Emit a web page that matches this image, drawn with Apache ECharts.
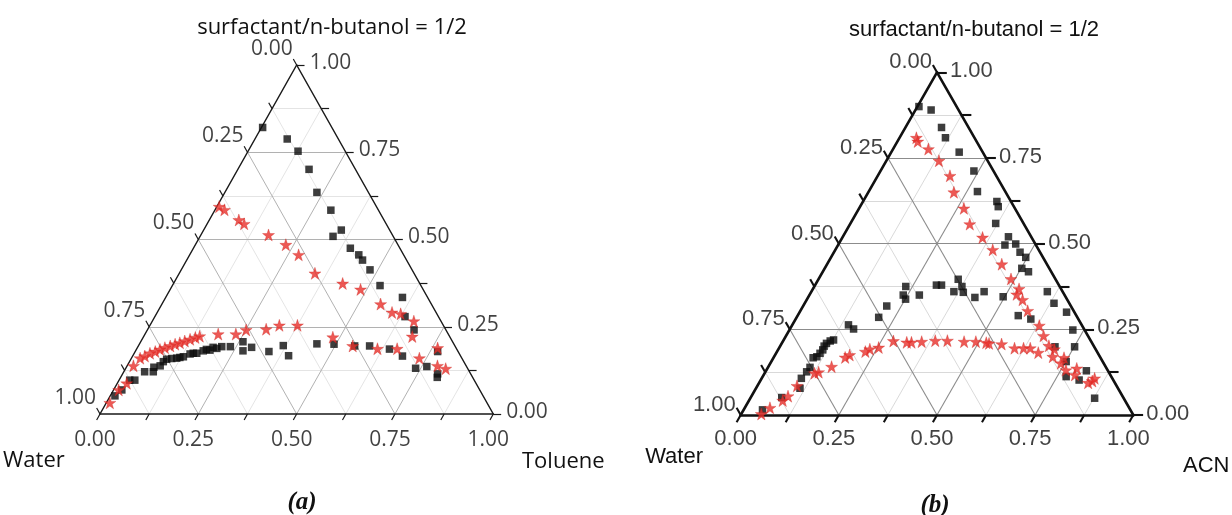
<!DOCTYPE html>
<html><head><meta charset="utf-8">
<script src="https://cdn.jsdelivr.net/npm/echarts@6/dist/echarts.min.js"></script>
<style>html,body{margin:0;padding:0;background:#fff}#c{width:1232px;height:515px}</style>
</head><body><div id="c"></div>
<script>
// ---- data: ternary compositions [oil fraction (Toluene / ACN), surfactant fraction]; water = 1 - oil - surfactant
const tickValues = [0, 0.25, 0.5, 0.75, 1];
const tickLabels = ['0.00', '0.25', '0.50', '0.75', '1.00'];
const gridSteps = [0, 0.125, 0.25, 0.375, 0.5, 0.625, 0.75, 0.875, 1];

const aSquares = [[0.003,0.821],[0.082,0.788],[0.127,0.753],[0.181,0.701],[0.234,0.635],[0.295,0.584],[0.350,0.527],[0.338,0.509],[0.399,0.475],[0.430,0.456],[0.447,0.441],[0.480,0.413],[0.528,0.368],[0.602,0.334],[0.636,0.279],[0.678,0.241],
[0.769,0.179],[0.801,0.115],[0.805,0.105],[0.763,0.136],[0.737,0.131],[0.686,0.166],[0.643,0.186],[0.588,0.195],[0.550,0.195],[0.495,0.200],[0.451,0.201],[0.396,0.167],[0.368,0.196],[0.340,0.179],[0.290,0.191],[0.273,0.181],[0.260,0.207],[0.235,0.193],[0.213,0.193],[0.203,0.188],[0.192,0.191],[0.188,0.183],[0.178,0.185],[0.172,0.181],[0.159,0.174],[0.150,0.174],[0.143,0.172],[0.130,0.164],[0.122,0.162],[0.115,0.160],[0.103,0.159],[0.091,0.157],[0.086,0.150],[0.084,0.138],[0.070,0.134],[0.075,0.121],[0.053,0.121],[0.040,0.097],[0.027,0.097],[0.021,0.069],[0.012,0.052]];

const aStars = [[0.006,0.594],[0.024,0.585],[0.075,0.556],[0.094,0.545],[0.172,0.513],[0.230,0.485],[0.277,0.456],[0.345,0.403],[0.430,0.374],[0.484,0.357],[0.556,0.315],[0.597,0.291],[0.621,0.287],[0.665,0.266],[0.683,0.222],[0.732,0.160],[0.764,0.189],[0.789,0.138],[0.814,0.130],
[0.662,0.187],[0.612,0.187],[0.545,0.195],[0.482,0.220],[0.375,0.254],[0.329,0.254],[0.301,0.243],[0.251,0.241],[0.231,0.229],[0.186,0.229],
[0.142,0.223],[0.133,0.219],[0.122,0.214],[0.111,0.209],[0.101,0.204],[0.091,0.200],[0.081,0.195],[0.070,0.190],[0.060,0.185],[0.051,0.179],[0.040,0.174],[0.031,0.166],[0.022,0.160],[0.016,0.138],[0.024,0.088],[0.013,0.069],[0.009,0.032]];

const bSquares = [[0.004,0.900],[0.040,0.890],[0.092,0.839],[0.117,0.809],[0.173,0.767],[0.238,0.712],[0.277,0.652],[0.341,0.623],[0.352,0.608],[0.370,0.559],[0.422,0.520],[0.425,0.496],[0.451,0.499],[0.474,0.475],[0.496,0.460],[0.502,0.428],[0.524,0.418],
[0.209,0.285],[0.213,0.318],[0.239,0.350],[0.251,0.338],[0.233,0.375],[0.280,0.350],[0.309,0.379],[0.322,0.379],[0.356,0.396],[0.376,0.375],[0.363,0.360],[0.388,0.358],[0.425,0.343],[0.440,0.360],[0.496,0.345],
[0.601,0.360],[0.635,0.326],[0.680,0.300],[0.562,0.290],[0.599,0.280],[0.722,0.248],[0.701,0.199],[0.751,0.199],[0.751,0.156],[0.816,0.129],[0.773,0.112],[0.811,0.102],[0.877,0.049],
[0.143,0.263],[0.162,0.251],[0.127,0.219],[0.120,0.216],[0.114,0.209],[0.112,0.201],[0.114,0.190],[0.112,0.180],[0.109,0.170],[0.101,0.167],[0.107,0.139],[0.105,0.126],[0.101,0.107],[0.112,0.078],[0.079,0.051],[0.048,0.015]];

const bStars = [[0.043,0.809],[0.052,0.798],[0.090,0.776],[0.134,0.742],[0.184,0.698],[0.218,0.650],[0.267,0.603],[0.305,0.557],[0.357,0.518],[0.401,0.482],[0.445,0.440],[0.490,0.397],[0.525,0.368],[0.527,0.352],[0.550,0.336],[0.579,0.304],[0.630,0.261],[0.656,0.231],[0.684,0.202],[0.703,0.192],[0.710,0.170],[0.740,0.167],[0.740,0.151],[0.763,0.131],[0.788,0.136],[0.793,0.117],[0.838,0.094],[0.846,0.099],[0.848,0.107],
[0.667,0.182],[0.640,0.195],[0.623,0.195],[0.600,0.195],[0.561,0.207],[0.528,0.209],[0.520,0.211],[0.492,0.214],[0.462,0.214],[0.418,0.217],[0.387,0.217],[0.354,0.214],[0.329,0.212],[0.317,0.212],[0.281,0.216],[0.253,0.197],[0.233,0.192],[0.225,0.185],[0.190,0.175],[0.182,0.168],[0.161,0.141],[0.136,0.125],[0.127,0.122],[0.101,0.085],[0.093,0.055],[0.086,0.042],[0.064,0.021],[0.051,0.003]];

// ---- ternary -> triangle coordinates (base 0..1, height 0..1)
function xy(t, s) { return [t + s / 2, s]; }

const STAR = 'path://M50,0 L61.8,35.5 L99,35.5 L69,57.5 L80.5,93 L50,71 L19.5,93 L31,57.5 L1,35.5 L38.2,35.5 Z';

const panels = [
  { grid: { left: 100, top: 65, width: 393.3, height: 349 },
    font: 'Open Sans', labelSize: 21,
    outline: { color: '#1a1a1a', width: 1.5 },
    major: { color: '#a8a8a8', width: 0.9 }, minor: { color: '#d9d9d9', width: 0.7 },
    tick: 0.017, rtick: 0.02,
    bottomOff: [-5, 26], leftOff: [-4, -16], rightOff: [13, -2],
    squares: aSquares, stars: aStars },
  { grid: { left: 740.7, top: 72.3, width: 392.6, height: 342.7 },
    font: 'Liberation Sans', labelSize: 22,
    outline: { color: '#111', width: 2.6 },
    major: { color: '#8c8c8c', width: 1.1 }, minor: { color: '#c9c9c9', width: 0.7 },
    tick: 0.021, rtick: 0.025,
    bottomOff: [-5, 24], leftOff: [-5, -10], rightOff: [13, -1],
    squares: bSquares, stars: bStars }
];

const series = [];
panels.forEach((p, i) => {
  const minor = [], major = [], ticks = [];
  gridSteps.forEach((v, k) => {
    if (v > 0 && v < 1) {
      const target = (k % 2 === 0) ? major : minor;
      target.push({ coords: [xy(0, v), xy(1 - v, v)] });          // constant surfactant
      target.push({ coords: [xy(v, 0), xy(v, 1 - v)] });          // constant oil
      target.push({ coords: [xy(1 - v, 0), xy(0, 1 - v)] });      // constant water
    }
    const b = xy(v, 0);
    ticks.push({ coords: [b, [b[0] - 0.5 * p.tick, -p.tick]] });
    const l = xy(0, 1 - v);
    ticks.push({ coords: [l, [l[0] - 0.5 * p.tick, l[1] + p.tick]] });
    const r = xy(1 - v, v);
    ticks.push({ coords: [r, [r[0] + p.rtick, r[1]]] });
  });
  const outline = [
    { coords: [xy(0, 0), xy(1, 0)] },
    { coords: [xy(1, 0), xy(0, 1)] },
    { coords: [xy(0, 1), xy(0, 0)] }
  ];
  const base = { type: 'lines', coordinateSystem: 'cartesian2d', xAxisIndex: i, yAxisIndex: i, silent: true, clip: false, polyline: false };
  series.push(Object.assign({}, base, { data: minor, lineStyle: { color: p.minor.color, width: p.minor.width, opacity: 1, curveness: 0 }, z: 1 }));
  series.push(Object.assign({}, base, { data: major, lineStyle: { color: p.major.color, width: p.major.width, opacity: 1, curveness: 0 }, z: 2 }));
  series.push(Object.assign({}, base, { data: ticks, lineStyle: { color: p.outline.color, width: p.outline.width * 0.8, opacity: 1, curveness: 0 }, z: 3 }));
  series.push(Object.assign({}, base, { data: outline, lineStyle: { color: p.outline.color, width: p.outline.width, opacity: 1, curveness: 0, cap: 'round', join: 'round' }, z: 3 }));

  const lab = (data, align, off) => ({
    type: 'scatter', xAxisIndex: i, yAxisIndex: i, symbolSize: 0, silent: true, clip: false, z: 5,
    data,
    label: { show: true, formatter: '{b}', position: [0, 0], align, verticalAlign: 'middle', offset: off,
             fontFamily: p.font, fontSize: p.labelSize, color: '#111' }
  });
  series.push(lab(tickValues.map((v, k) => ({ name: tickLabels[k], value: xy(v, 0) })), 'center', p.bottomOff));
  series.push(lab(tickValues.map((v, k) => ({ name: tickLabels[k], value: xy(0, 1 - v) })), 'right', p.leftOff));
  series.push(lab(tickValues.map((v, k) => ({ name: tickLabels[k], value: xy(1 - v, v) })), 'left', p.rightOff));

  series.push({ type: 'scatter', xAxisIndex: i, yAxisIndex: i, clip: false, silent: true, z: 6,
    symbol: 'rect', symbolSize: 7.5, itemStyle: { color: '#0d0d0d' },
    data: p.squares.map(d => xy(d[0], d[1])) });
  series.push({ type: 'scatter', xAxisIndex: i, yAxisIndex: i, clip: false, silent: true, z: 7,
    symbol: STAR, symbolSize: 12, itemStyle: { color: '#e8302a', borderColor: '#c8201a', borderWidth: 0.4 },
    data: p.stars.map(d => xy(d[0], d[1])) });
});

function txt(x, y, text, font, align) {
  return { type: 'text', x, y, silent: true, z: 10,
    style: { text, font, fill: '#111', align, verticalAlign: 'middle', textAlign: align, textVerticalAlign: 'middle' } };
}

const chart = echarts.init(document.getElementById('c'), null, { renderer: 'canvas' });
chart.setOption({
  animation: false,
  backgroundColor: '#fff',
  grid: panels.map(p => Object.assign({ containLabel: false }, p.grid)),
  xAxis: panels.map((p, i) => ({ gridIndex: i, type: 'value', min: 0, max: 1, show: false })),
  yAxis: panels.map((p, i) => ({ gridIndex: i, type: 'value', min: 0, max: 1, show: false })),
  graphic: [
    txt(332, 28, 'surfactant/n-butanol = 1/2', '22px "Open Sans"', 'center'),
    txt(3, 461, 'Water', '22px "Open Sans"', 'left'),
    txt(522, 462, 'Toluene', '22px "Open Sans"', 'left'),
    txt(302, 503, '(a)', 'italic bold 25px "Liberation Serif"', 'center'),
    txt(974, 30, 'surfactant/n-butanol = 1/2', '22px "Liberation Sans"', 'center'),
    txt(703, 457, 'Water', '22px "Liberation Sans"', 'right'),
    txt(1183, 466, 'ACN', '22px "Liberation Sans"', 'left'),
    txt(935, 506, '(b)', 'italic bold 25px "Liberation Serif"', 'center')
  ],
  series
});
</script></body></html>
